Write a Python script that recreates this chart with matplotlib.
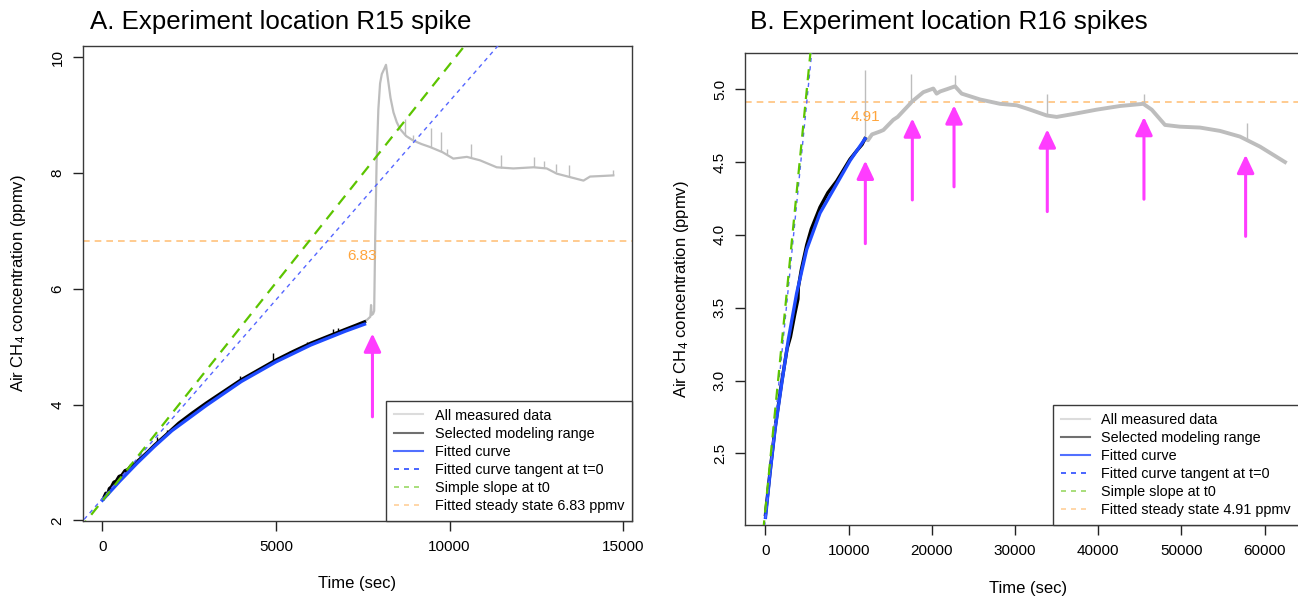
import numpy as np
import matplotlib
matplotlib.use("Agg")
import matplotlib.pyplot as plt
from matplotlib.lines import Line2D

plt.rcParams['font.family'] = ['Liberation Sans', 'DejaVu Sans']
plt.rcParams['mathtext.fontset'] = 'custom'
plt.rcParams['mathtext.rm'] = 'Liberation Sans'
plt.rcParams['mathtext.default'] = 'regular'

# ---------------- R15 (single spike) ----------------
r15_fit_t = [0, 500, 1000, 1500, 2000, 3000, 4000, 5000, 6000, 7000, 7550]
r15_fit_v = [2.35, 2.68, 2.99, 3.28, 3.55, 3.99, 4.40, 4.74, 5.03, 5.27, 5.39]

r15_sel_t = [30, 100, 150, 200, 260, 330, 400, 480, 560, 650, 740, 830, 930, 1100, 1300, 1500,
             1800, 2200, 2600, 3000, 3500, 4000, 4500, 5000, 5500, 6000, 6500, 7000, 7300, 7550]
r15_sel_v = [2.38, 2.47, 2.45, 2.55, 2.58, 2.66, 2.68, 2.76, 2.78, 2.86, 2.88, 2.95, 2.98, 3.07, 3.18, 3.30,
             3.46, 3.68, 3.86, 4.03, 4.23, 4.43, 4.60, 4.77, 4.92, 5.06, 5.18, 5.30, 5.37, 5.43]
r15_sel_spike_t = [845, 1565, 1850, 2330, 3000, 3965, 4925, 5070, 5405, 5885, 6650, 6800]
r15_sel_spike_v = [3.00, 3.45, 3.56, 3.74, 4.01, 4.49, 4.89, 4.81, 4.93, 5.08, 5.30, 5.32]

r15_all_t = [7550, 7650, 7720, 7740, 7760, 7800, 7830, 7860, 7900, 7950, 8000, 8050, 8120, 8170,
             8220, 8300, 8385, 8480, 8577, 8750, 8960, 9200, 9440, 9800, 10110, 10500, 10880,
             11360, 11840, 12420, 12800, 13090, 13475, 13860, 14050, 14400, 14720]
r15_all_v = [5.43, 5.48, 5.52, 5.72, 5.55, 5.57, 5.62, 6.90, 8.20, 9.10, 9.55, 9.71, 9.80, 9.87,
             9.65, 9.30, 9.05, 8.88, 8.76, 8.64, 8.56, 8.50, 8.45, 8.36, 8.25, 8.28, 8.22,
             8.10, 8.08, 8.10, 8.08, 7.99, 7.93, 7.87, 7.94, 7.95, 7.96]
r15_all_spike_t = [8718, 8957, 9458, 9745, 9919, 10610, 11484, 12435, 12722, 13068, 13433, 14700]
r15_all_spike_base = [8.66, 8.56, 8.45, 8.38, 8.33, 8.27, 8.09, 8.10, 8.08, 8.02, 7.94, 7.96]
r15_all_spike_top = [8.94, 8.66, 8.77, 8.71, 8.42, 8.51, 8.31, 8.27, 8.21, 8.16, 8.14, 8.05]

r15_tangent_t = [-1000, 12500]
r15_tangent_v = [1.694, 10.955]
r15_slope_t = [-1000, 12000]
r15_slope_v = [1.588, 11.377]
r15_steady = 6.83
r15_arrow_t = [7780]
r15_arrow_tail = [3.79]
r15_arrow_tip = [5.23]

# ---------------- R16 (multiple spikes) ----------------
r16_fit_t = [0, 540, 1140, 1950, 2740, 3750, 4950, 6550, 8560, 10160, 11960]
r16_fit_v = [2.06, 2.36, 2.66, 2.98, 3.28, 3.60, 3.90, 4.15, 4.35, 4.51, 4.66]

r16_sel_t = [0, 540, 1140, 1950, 2600, 3000, 3500, 3900, 3950, 4300, 4950, 5500, 6550,
             7500, 8560, 10160, 11000, 11600, 11960]
r16_sel_v = [2.08, 2.37, 2.67, 2.99, 3.22, 3.30, 3.45, 3.56, 3.64, 3.76, 3.93, 4.04, 4.19,
             4.29, 4.37, 4.52, 4.58, 4.62, 4.66]

r16_all_t = [11960, 12320, 12800, 13760, 14170, 15360, 15890, 17370, 17600, 18970, 20170, 20570,
             21000, 21780, 22780, 23580, 25780, 28190, 30190, 31790, 33800, 35000, 37000,
             39810, 42610, 45410, 46420, 48020, 49820, 52220, 54630, 57030, 59440, 62440]
r16_all_v = [4.66, 4.65, 4.69, 4.71, 4.72, 4.79, 4.81, 4.90, 4.915, 4.98, 5.005, 4.97,
             4.985, 5.00, 5.02, 4.97, 4.93, 4.90, 4.89, 4.86, 4.82, 4.81, 4.83,
             4.86, 4.885, 4.90, 4.86, 4.755, 4.743, 4.737, 4.714, 4.675, 4.606, 4.50]
r16_all_spike_t = [12000, 17450, 22780, 33870, 45490, 57830]
r16_all_spike_base = [4.66, 4.91, 5.02, 4.82, 4.90, 4.66]
r16_all_spike_top = [5.13, 5.105, 5.10, 4.97, 4.97, 4.77]

r16_tangent_t = [-500, 6000]
r16_tangent_v = [1.77, 5.51]
r16_slope_t = [-500, 6000]
r16_slope_v = [1.835, 5.598]
r16_steady = 4.91
r16_arrow_t = [12000, 17650, 22660, 33870, 45490, 57710]
r16_arrow_tail = [3.94, 4.24, 4.33, 4.16, 4.245, 3.99]
r16_arrow_tip = [4.51, 4.80, 4.89, 4.725, 4.81, 4.55]

GRAY = '#bdbdbd'
BLUE = '#1f4bff'
BLUE_DASH = '#5566ff'
GREEN = '#5cc400'
ORANGE = '#ffc27d'
ORANGE_TXT = '#ffa53c'
MAGENTA = '#ff3cff'
FRAME = '#3a3a3a'

W, H = 1298, 597
fig = plt.figure(figsize=(W / 100, H / 100), dpi=100)


def px_axes(x0, y0, x1, y1):
    return fig.add_axes([x0 / W, 1 - y1 / H, (x1 - x0) / W, (y1 - y0) / H])


def draw_panel(ax, fit_t, fit_v, sel_t, sel_v, all_t, all_v, spk_t, spk_base, spk_top,
               tan_t, tan_v, slope_t, slope_v, steady, arr_t, arr_tail, arr_tip, all_lw):
    ax.plot(all_t, all_v, color=GRAY, lw=all_lw, solid_joinstyle='round', zorder=2)
    ax.vlines(spk_t, spk_base, spk_top, color=GRAY, lw=1.0, zorder=2)
    ax.plot(sel_t, sel_v, color='black', lw=2.4, zorder=3)
    ax.plot(fit_t, fit_v, color=BLUE, lw=2.4, zorder=4)
    ax.plot(tan_t, tan_v, color=BLUE_DASH, lw=1.0, dashes=(3, 3), zorder=5)
    ax.plot(slope_t, slope_v, color=GREEN, lw=1.6, dashes=(5, 3.5), zorder=5)
    ax.axhline(steady, color=ORANGE, lw=1.2, dashes=(4, 3), zorder=1)
    for t, v0, v1 in zip(arr_t, arr_tail, arr_tip):
        ax.annotate('', xy=(t, v1), xytext=(t, v0),
                    arrowprops=dict(arrowstyle='-|>,head_length=0.55,head_width=0.26',
                                    mutation_scale=20, lw=2.2, color=MAGENTA,
                                    shrinkA=0, shrinkB=0), zorder=6)
    for s in ax.spines.values():
        s.set_color(FRAME)
        s.set_linewidth(1.0)
    ax.tick_params(length=7, width=1, color='#222222', labelsize=11, pad=7)
    ax.tick_params(axis='y', pad=6)
    ax.set_xlabel('Time (sec)', fontsize=12, labelpad=16)
    ax.set_ylabel('Air CH$_4$ concentration (ppmv)', fontsize=12, labelpad=16)


def add_legend(ax, steady, right_px=None):
    handles = [
        Line2D([], [], color='#dcdcdc', lw=1.5),
        Line2D([], [], color='#707070', lw=1.5),
        Line2D([], [], color='#5270ff', lw=1.5),
        Line2D([], [], color='#2a4cff', lw=1.2, dashes=(3, 3)),
        Line2D([], [], color='#9ad864', lw=1.2, dashes=(3, 3)),
        Line2D([], [], color='#ffcf99', lw=1.2, dashes=(3, 3)),
    ]
    labels = ['All measured data', 'Selected modeling range', 'Fitted curve',
              'Fitted curve tangent at t=0', 'Simple slope at t0',
              'Fitted steady state %.2f ppmv' % steady]
    anchor = (1, 0)
    if right_px is not None:
        # keep the whole box inside the saved figure
        x_axes = ax.transAxes.inverted().transform((right_px, 0))[0]
        anchor = (x_axes, 0)
    leg = ax.legend(handles, labels, loc='lower right', bbox_to_anchor=anchor,
                    borderaxespad=0, fontsize=10.4,
                    handlelength=2.0, handletextpad=0.8, labelspacing=0.28,
                    borderpad=0.55, fancybox=False, framealpha=1)
    leg.get_frame().set_edgecolor(FRAME)
    leg.get_frame().set_linewidth(1.0)
    leg.set_zorder(10)


# left panel
axA = px_axes(82.7, 45.7, 632, 520.7)
draw_panel(axA, r15_fit_t, r15_fit_v, r15_sel_t, r15_sel_v, r15_all_t, r15_all_v,
           r15_all_spike_t, r15_all_spike_base, r15_all_spike_top,
           r15_tangent_t, r15_tangent_v, r15_slope_t, r15_slope_v, r15_steady,
           r15_arrow_t, r15_arrow_tail, r15_arrow_tip, all_lw=1.6)
axA.vlines(r15_sel_spike_t, np.interp(r15_sel_spike_t, r15_sel_t, r15_sel_v),
           r15_sel_spike_v, color='black', lw=1.0, zorder=3)
axA.set_xlim(-568, 15258)
axA.set_ylim(1.996, 10.2)
axA.set_xticks([0, 5000, 10000, 15000])
axA.set_yticks([2, 4, 6, 8, 10])
axA.set_yticklabels(['2', '4', '6', '8', '10'], rotation=90, va='center')
axA.text(7480, 6.56, '6.83', color=ORANGE_TXT, fontsize=11, ha='center', va='center')
add_legend(axA, r15_steady)

# right panel
axB = px_axes(745, 52.7, 1310.6, 525)
draw_panel(axB, r16_fit_t, r16_fit_v, r16_sel_t, r16_sel_v, r16_all_t, r16_all_v,
           r16_all_spike_t, r16_all_spike_base, r16_all_spike_top,
           r16_tangent_t, r16_tangent_v, r16_slope_t, r16_slope_v, r16_steady,
           r16_arrow_t, r16_arrow_tail, r16_arrow_tip, all_lw=2.8)
axB.set_xlim(-2464, 65520)
axB.set_ylim(2.008, 5.251)
axB.set_xticks(np.arange(0, 60001, 10000))
axB.set_yticks([2.5, 3.0, 3.5, 4.0, 4.5, 5.0])
axB.set_yticklabels(['2.5', '3.0', '3.5', '4.0', '4.5', '5.0'], rotation=90, va='center')
axB.text(11960, 4.81, '4.91', color=ORANGE_TXT, fontsize=11, ha='center', va='center')
add_legend(axB, r16_steady, right_px=1299)

fig.text(90 / W, 1 - 22 / H, 'A. Experiment location R15 spike', fontsize=18.6,
         ha='left', va='center')
fig.text(750 / W, 1 - 22 / H, 'B. Experiment location R16 spikes', fontsize=18.8,
         ha='left', va='center')

fig.savefig('out.png', dpi=100)
